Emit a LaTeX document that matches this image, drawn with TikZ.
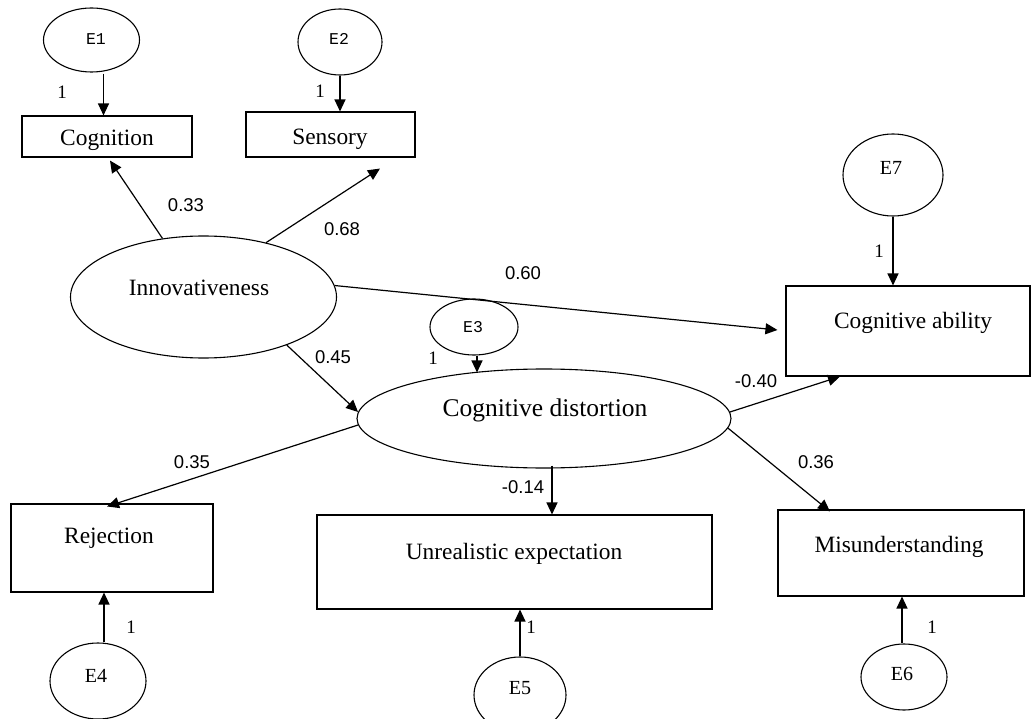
\documentclass[tikz,border=0pt]{standalone}
\usepackage{fontspec}
\setmainfont{Liberation Serif}
\newfontfamily\numfont{Liberation Sans}
\newfontfamily\smallmono{Liberation Mono}
\usetikzlibrary{arrows.meta,calc,shapes.geometric}
\tikzset{
  ell/.style={draw, ellipse, inner sep=0pt, line width=1.1pt},
  box/.style={draw, rectangle, inner sep=0pt, line width=1.1pt},
  big/.style={font=\fontsize{23.4}{26}\selectfont, inner sep=0pt},
  bigger/.style={font=\fontsize{25.5}{28}\selectfont, inner sep=0pt},
  elab/.style={font=\fontsize{20}{22}\selectfont, inner sep=0pt},
  emono/.style={font=\smallmono\fontsize{16.5}{18}\selectfont, inner sep=0pt},
  coef/.style={font=\numfont\fontsize{18.5}{20}\selectfont, inner sep=0pt},
  one/.style={font=\fontsize{19}{21}\selectfont, inner sep=0pt},
  arr/.style={-{Triangle[length=12pt,width=11pt]}, line width=1.2pt},
}
\begin{document}
\begin{tikzpicture}[x=1pt,y=-1pt]
\useasboundingbox (0,0) rectangle (1033,719);
% shapes
\node[ell, minimum width=96pt, minimum height=64pt] (E1) at (91.5,40) {};
\node[ell, minimum width=84pt, minimum height=66pt] (E2) at (340,42) {};
\node[box, minimum width=170pt, minimum height=41pt] (cog) at (107,136.5) {};
\node[box, minimum width=169pt, minimum height=45pt] (sen) at (330.5,134.5) {};
\node[ell, minimum width=266pt, minimum height=122pt] (inno) at (203.5,297) {};
\node[ell, minimum width=88pt, minimum height=56pt] (E3) at (474,327) {};
\node[ell, minimum width=374pt, minimum height=99pt] (cd) at (544,418.5) {};
\node[ell, minimum width=100pt, minimum height=82pt] (E7) at (893,175) {};
\node[box, minimum width=244pt, minimum height=90pt] (cab) at (908,331) {};
\node[box, minimum width=202pt, minimum height=88pt] (rej) at (112,548) {};
\node[box, minimum width=395pt, minimum height=94pt] (unr) at (514.5,562) {};
\node[box, minimum width=246pt, minimum height=86pt] (mis) at (901,553) {};
\node[ell, minimum width=96pt, minimum height=76pt] (E4) at (98,681) {};
\node[ell, minimum width=92pt, minimum height=76pt] (E5) at (520,695) {};
\node[ell, minimum width=86pt, minimum height=66pt] (E6) at (904,677) {};
% texts
\node[emono] (E1t) at (96,39) {E1};
\node[emono] (E2t) at (339,39) {E2};
\node[emono] (E3t) at (473,327) {E3};
\node[elab] (E7t) at (891,168) {E7};
\node[elab] (E4t) at (96,676) {E4};
\node[elab] (E5t) at (520,688) {E5};
\node[elab] (E6t) at (902,674) {E6};
\node[big] (cogt) at (107,140) {Cognition};
\node[big] (sent) at (330,139) {Sensory};
\node[big] (innot) at (199,288) {Innovativeness};
\node[bigger] (cdt) at (545,410) {Cognitive distortion};
\node[big] (cabt) at (913,323) {Cognitive ability};
\node[big] (rejt) at (109,538) {Rejection};
\node[big] (unrt) at (514,554) {Unrealistic expectation};
\node[big] (mist) at (899,547) {Misunderstanding};
% helper coordinates
\coordinate (e1s) at ($(E1.south)+(12,1)$);
\coordinate (e3s) at ($(E3.south)+(3,0)$);
\coordinate (cds) at ($(cd.south)+(8,-3)$);
\coordinate (e4n) at ($(E4.north)+(6,0)$);
\coordinate (e6n) at ($(E6.north)+(-2,0)$);
\coordinate (cdtop) at ($(cd.north)+(0,4)$);
% connectors
\draw[arr] (e1s) -- (e1s |- cog.north);
\draw[arr] (E2.south) -- (E2.south |- sen.north);
\draw[arr] (inno.125) -- ($(cog.south)+(3,3)$);
\draw[arr] (inno.41) -- ($(sen.south)+(49.5,11)$);
\draw[arr] (inno.5) -- ($(cab.west)+(-8,-1)$);
\draw[arr] (inno.-30) -- (cd.178);
\draw[arr] (e3s) -- (e3s |- cdtop);
\draw[arr] (E7.south) -- (E7.south |- cab.north);
\draw[arr] (cd.182) -- ($(rej.north)+(-5,3)$);
\draw[arr] (cds) -- (cds |- unr.north);
\draw[arr] (cd.2) -- ($(cab.south)+(-68,0)$);
\draw[arr] (cd.-3) -- ($(mis.north)+(-71,2)$);
\draw[arr] (e4n) -- (e4n |- rej.south);
\draw[arr] (E5.north) -- (E5.north |- unr.south);
\draw[arr] (e6n) -- (e6n |- mis.south);
% coefficient labels
\node[coef] (c033) at (186,205) {0.33};
\node[coef] (c068) at (342,229) {0.68};
\node[coef] (c060) at (523,273) {0.60};
\node[coef] (c045) at (333,357) {0.45};
\node[coef] (c035) at (192,462) {0.35};
\node[coef] (c040) at (756,381) {-0.40};
\node[coef] (c014) at (523,487) {-0.14};
\node[coef] (c036) at (816,462) {0.36};
% unit loadings
\node[one] (o1) at (62,92) {1};
\node[one] (o2) at (320,91) {1};
\node[one] (o3) at (433,358) {1};
\node[one] (o7) at (879,251) {1};
\node[one] (o4) at (131,627) {1};
\node[one] (o5) at (531,627) {1};
\node[one] (o6) at (932,627) {1};
\end{tikzpicture}
\end{document}
